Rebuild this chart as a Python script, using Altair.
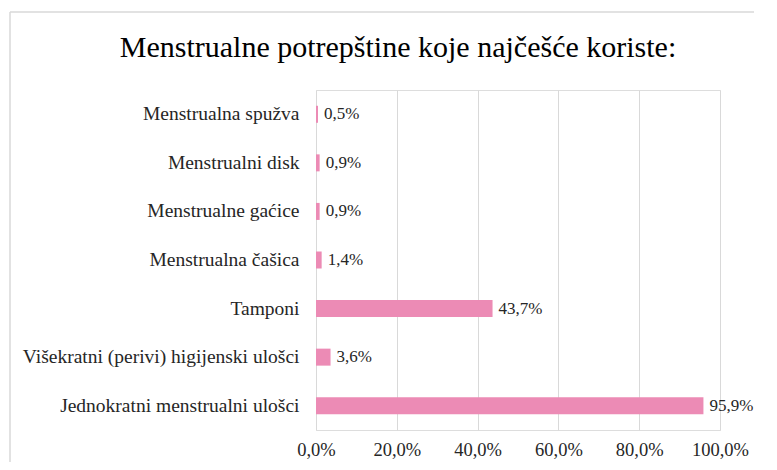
import altair as alt
import pandas as pd

categories = [
    "Menstrualna spužva",
    "Menstrualni disk",
    "Menstrualne gaćice",
    "Menstrualna čašica",
    "Tamponi",
    "Višekratni (perivi) higijenski ulošci",
    "Jednokratni menstrualni ulošci",
]
values = [0.5, 0.9, 0.9, 1.4, 43.7, 3.6, 95.9]
x_ticks = [0, 20, 40, 60, 80, 100]
title_text = "Menstrualne potrepštine koje najčešće koriste:"

FONT = "Liberation Serif"
BAR = "#EC8BB5"
GRID = "#D9D9D9"
TXT = "#262626"
FS = 19.5

df = pd.DataFrame({"cat": categories, "val": values})
df["label"] = df["val"].map(lambda v: f"{v:.1f}".replace(".", ",") + "%")

W, H = 404, 340

y_enc = alt.Y("cat:N", sort=categories, title=None,
              scale=alt.Scale(paddingInner=0.65, paddingOuter=0.325),
              axis=alt.Axis(ticks=False, domain=False, labelFont=FONT, labelFontSize=FS,
                            labelColor=TXT, labelPadding=17, labelLimit=400))
x_enc = alt.X("val:Q", title=None,
              scale=alt.Scale(domain=[0, 100], nice=False),
              axis=alt.Axis(values=x_ticks, ticks=False, domain=False, grid=True,
                            gridColor=GRID, gridWidth=1, labelFont=FONT, labelFontSize=18.5,
                            labelColor=TXT, labelPadding=10, labelFlush=False,
                            labelOverlap=False,
                            labelExpr="replace(format(datum.value, '.1f'), '.', ',') + '%'"))

one = pd.DataFrame({"a": [0]})
border_top = alt.Chart(one).mark_rule(color=GRID, strokeWidth=1.5).encode(
    x=alt.value(-306), x2=alt.value(600), y=alt.value(-78))
border_left = alt.Chart(one).mark_rule(color=GRID, strokeWidth=1.5).encode(
    x=alt.value(-306), y=alt.value(-78), y2=alt.value(500))

bars = alt.Chart(df).mark_bar(color=BAR, size=17).encode(x=x_enc, y=y_enc)

labels = alt.Chart(df).mark_text(align="left", dx=6, font=FONT, fontSize=17, color=TXT).encode(
    x=alt.X("val:Q", scale=alt.Scale(domain=[0, 100], nice=False)),
    y=alt.Y("cat:N", sort=categories),
    text="label:N",
)

title = alt.Chart(pd.DataFrame({"t": [title_text]})).mark_text(
    align="center", baseline="alphabetic", font=FONT, fontSize=30, color="#000000"
).encode(x=alt.value(82), y=alt.value(-33), text="t:N")

chart = alt.layer(border_top, border_left, bars, labels, title).properties(
    width=W, height=H,
    autosize=alt.AutoSizeParams(type="none"),
    padding={"left": 308, "top": 82, "right": 34, "bottom": 32},
).configure_view(stroke=None).configure(background="white")

chart.save("out.html", embed_options={"renderer": "svg", "actions": False})
